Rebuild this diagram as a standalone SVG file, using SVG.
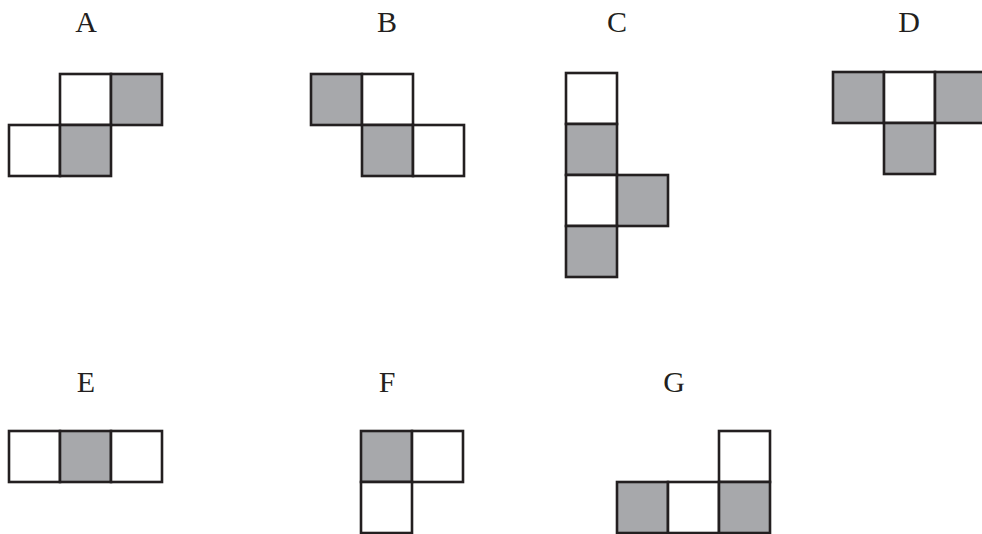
<svg xmlns="http://www.w3.org/2000/svg" width="982" height="534" viewBox="0 0 982 534">
<style>
.c{stroke:#231f20;stroke-width:2.6;fill:#ffffff}
.g{fill:#a7a8ab}
.lbl{font-family:"Liberation Serif","DejaVu Serif",serif;font-size:30px;fill:#231f20;text-anchor:middle}
</style>
<rect width="982" height="534" fill="#ffffff"/>
<g id="A">
<text class="lbl" x="86" y="32">A</text>
<rect class="c" x="60" y="74" width="51" height="51"/>
<rect class="c g" x="111" y="74" width="51" height="51"/>
<rect class="c" x="9" y="125" width="51" height="51"/>
<rect class="c g" x="60" y="125" width="51" height="51"/>
</g>
<g id="B">
<text class="lbl" x="387" y="32">B</text>
<rect class="c g" x="311" y="74" width="51" height="51"/>
<rect class="c" x="362" y="74" width="51" height="51"/>
<rect class="c g" x="362" y="125" width="51" height="51"/>
<rect class="c" x="413" y="125" width="51" height="51"/>
</g>
<g id="C">
<text class="lbl" x="617" y="32">C</text>
<rect class="c" x="566" y="73" width="51" height="51"/>
<rect class="c g" x="566" y="124" width="51" height="51"/>
<rect class="c" x="566" y="175" width="51" height="51"/>
<rect class="c g" x="617" y="175" width="51" height="51"/>
<rect class="c g" x="566" y="226" width="51" height="51"/>
</g>
<g id="D">
<text class="lbl" x="909" y="32">D</text>
<rect class="c g" x="833" y="72" width="51" height="51"/>
<rect class="c" x="884" y="72" width="51" height="51"/>
<rect class="c g" x="935" y="72" width="51" height="51"/>
<rect class="c g" x="884" y="123" width="51" height="51"/>
</g>
<g id="E">
<text class="lbl" x="86" y="392">E</text>
<rect class="c" x="9" y="431" width="51" height="51"/>
<rect class="c g" x="60" y="431" width="51" height="51"/>
<rect class="c" x="111" y="431" width="51" height="51"/>
</g>
<g id="F">
<text class="lbl" x="387" y="392">F</text>
<rect class="c g" x="361" y="431" width="51" height="51"/>
<rect class="c" x="412" y="431" width="51" height="51"/>
<rect class="c" x="361" y="482" width="51" height="51"/>
</g>
<g id="G">
<text class="lbl" x="674" y="392">G</text>
<rect class="c" x="719" y="431" width="51" height="51"/>
<rect class="c g" x="617" y="482" width="51" height="51"/>
<rect class="c" x="668" y="482" width="51" height="51"/>
<rect class="c g" x="719" y="482" width="51" height="51"/>
</g>
<g id="connectors"/>
</svg>
